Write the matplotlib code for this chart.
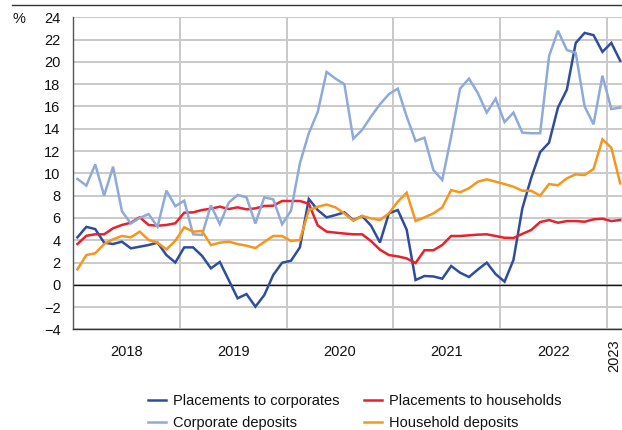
import matplotlib
matplotlib.use("Agg")
import matplotlib.pyplot as plt
from matplotlib.lines import Line2D
import numpy as np

plt.rcParams['font.family'] = ['Liberation Sans', 'DejaVu Sans']

# Monthly data, Jan 2018 - Feb 2023 (annual growth, %)
year_labels = ["2018", "2019", "2020", "2021", "2022"]
last_year_label = "2023"
series_names = ["Placements to corporates", "Placements to households",
                "Corporate deposits", "Household deposits"]

placements_corporates = [
    4.26, 5.2, 5.0, 3.78, 3.66, 3.87, 3.27, 3.42, 3.57, 3.78, 2.67, 2.0,
    3.36, 3.36, 2.6, 1.48, 2.05, 0.43, -1.21, -0.83, -1.96, -0.92, 0.88, 1.98,
    2.16, 3.36, 7.7, 6.71, 6.05, 6.26, 6.5, 5.8, 6.17, 5.3, 3.8, 6.41,
    6.71, 4.95, 0.43, 0.79, 0.75, 0.55, 1.69, 1.09, 0.7, 1.37, 1.99, 0.96,
    0.28, 2.23, 6.86, 9.6, 11.9, 12.75, 15.9, 17.5, 21.7, 22.6, 22.4, 20.9,
    21.7, 20.1]

placements_households = [
    3.66, 4.4, 4.53, 4.53, 5.07, 5.37, 5.57, 6.06, 5.37, 5.3, 5.37, 5.52,
    6.47, 6.5, 6.71, 6.83, 7.01, 6.8, 6.95, 6.77, 6.86, 7.07, 7.1, 7.52,
    7.52, 7.52, 7.28, 5.33, 4.77, 4.68, 4.6, 4.53, 4.53, 3.92, 3.15, 2.67,
    2.55, 2.37, 1.95, 3.1, 3.1, 3.57, 4.38, 4.38, 4.44, 4.5, 4.53, 4.38,
    4.22, 4.2, 4.57, 4.92, 5.63, 5.81, 5.57, 5.72, 5.72, 5.66, 5.87, 5.93,
    5.72, 5.81]

corporate_deposits = [
    9.5, 8.9, 10.8, 8.0, 10.6, 6.6, 5.5, 6.0, 6.35, 5.2, 8.45, 7.05,
    7.55, 4.53, 4.47, 7.13, 5.45, 7.37, 8.06, 7.85, 5.5, 7.85, 7.67, 5.43,
    6.65, 10.9, 13.6, 15.5, 19.1, 18.5, 18.0, 13.1, 13.9, 15.1, 16.2, 17.1,
    17.6, 15.1, 12.9, 13.2, 10.3, 9.4, 13.3, 17.6, 18.5, 17.2, 15.45, 16.7,
    14.6, 15.45, 13.65, 13.6, 13.6, 20.5, 22.8, 21.07, 20.8, 16.0, 14.4, 18.76,
    15.77, 15.9]

household_deposits = [
    1.39, 2.67, 2.83, 3.66, 4.08, 4.38, 4.26, 4.77, 4.02, 3.78, 3.18, 3.96,
    5.16, 4.77, 4.83, 3.57, 3.78, 3.87, 3.66, 3.51, 3.3, 3.85, 4.38, 4.38,
    3.93, 4.02, 6.7, 7.0, 7.2, 6.95, 6.4, 5.75, 6.17, 5.96, 5.81, 6.41,
    7.46, 8.26, 5.72, 6.05, 6.41, 6.95, 8.5, 8.3, 8.66, 9.25, 9.46, 9.25,
    9.04, 8.8, 8.44, 8.44, 8.0, 9.04, 8.93, 9.55, 9.91, 9.85, 10.39, 13.05,
    12.3, 9.1]

colors = ["#2f4d9e", "#e8212b", "#8eaadb", "#f7951d"]
all_series = [placements_corporates, placements_households,
              corporate_deposits, household_deposits]

W, H = 622, 430
fig = plt.figure(figsize=(W / 100, H / 100), dpi=100)
ax = fig.add_axes([73 / W, 1 - 329.4 / H, (W - 73) / W, (329.4 - 17.3) / H])

n = len(placements_corporates)
x = np.arange(n) + 0.5

grid_c = "#c9c9c9"
ax.set_ylim(-4, 24)
ax.set_xlim(0, 61.7)
ax.set_yticks(np.arange(-4, 25, 2))
ax.set_yticklabels([f"{v}".replace("-", "\u2212") for v in range(-4, 25, 2)])
ax.yaxis.grid(True, color=grid_c, lw=1.4)
ax.set_xticks(np.arange(12, 61, 12), minor=True)
ax.xaxis.grid(True, which="minor", color=grid_c, lw=1.4)
ax.set_xticks([6 + 12 * k for k in range(len(year_labels))])
ax.set_xticklabels(year_labels)
ax.tick_params(axis="both", which="both", length=0, labelsize=10.5, colors="#111111")
ax.tick_params(axis="x", pad=11)
ax.tick_params(axis="y", pad=9)
ax.set_axisbelow(True)
for s in ["top", "right"]:
    ax.spines[s].set_visible(False)
ax.spines["left"].set_color("#555555")
ax.spines["bottom"].set_color("#333333")
ax.spines["left"].set_linewidth(1.0)
ax.spines["bottom"].set_linewidth(1.0)
ax.axhline(0, color="#111111", lw=1.0, zorder=1.5)

ax.text(60.8, -4.9, last_year_label, rotation=90, ha="center", va="top",
        fontsize=10.5, color="#111111")

handles = []
for vals, c, name in zip(all_series, colors, series_names):
    h, = ax.plot(x, vals, color=c, lw=1.8, label=name, solid_joinstyle="miter")
    handles.append(h)

fig.text(12 / W, 1 - 19 / H, "%", ha="left", va="center", fontsize=10.5, color="#111111")
fig.add_artist(Line2D([12 / W, 1], [1 - 5 / H, 1 - 5 / H], color="#333333", lw=1.0))

order = [0, 2, 1, 3]
leg = fig.legend([handles[i] for i in order], [series_names[i] for i in order],
                 ncol=2, loc="center left", bbox_to_anchor=(148 / W, 1 - 412 / H),
                 frameon=False, fontsize=10.5, handlelength=1.2, handletextpad=0.5,
                 columnspacing=1.7, labelspacing=0.55, borderpad=0, borderaxespad=0)
for t in leg.get_texts():
    t.set_color("#111111")

fig.savefig("out.png", dpi=100)
